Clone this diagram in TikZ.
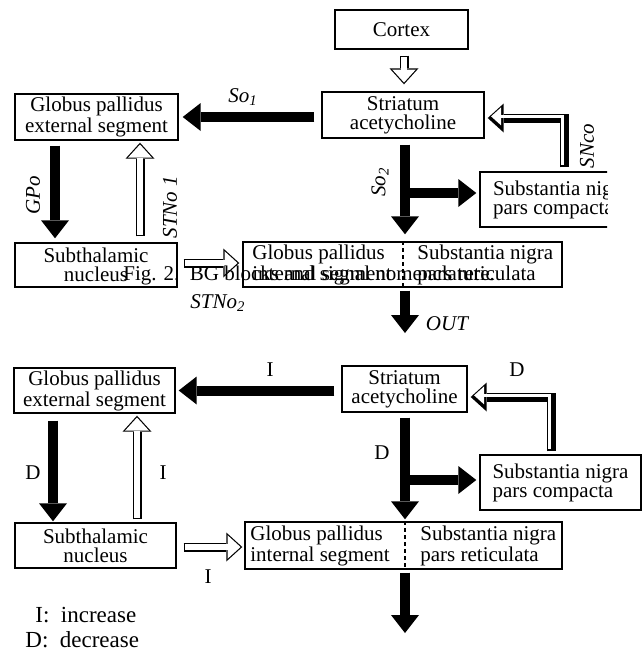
\documentclass[tikz,border=0pt]{standalone}
\usepackage{fontspec}
\setmainfont{Liberation Serif}
\usetikzlibrary{arrows.meta}

\tikzset{
	box/.style={draw, line width=0.7pt, inner sep=0pt, align=center, font=\fontsize{10.5}{9.5}\selectfont},
	txt/.style={inner sep=0pt, align=left, font=\fontsize{10.5}{9.5}\selectfont},
	lbl/.style={inner sep=0pt, font=\fontsize{10.5}{10}\selectfont\itshape},
	lbr/.style={inner sep=0pt, font=\fontsize{10.5}{10}\selectfont},
	divider/.style={line width=0.6pt, dash pattern=on 2pt off 1.5pt},
	blk/.style 2 args={line width=5pt, shorten <=#1, shorten >=#2,
		-{Triangle[width=14pt, length=9pt, line width=0pt]}},
	hol/.style 2 args={line width=4.5pt, shorten <=#1, shorten >=#2,
		-{Triangle[width=14.5pt, length=8pt, line width=0pt]},
		postaction={draw=white, line width=3.3pt, shorten <=#1+0.6pt, shorten >=#2+0.9pt,
			-{Triangle[width=11.8pt, length=6.5pt, line width=0pt]}}},
	shd/.style 2 args={line width=4.5pt, line join=miter, shorten <=#1, shorten >=#2,
		-{Triangle[width=14.5pt, length=8pt, line width=0pt]},
		postaction={draw=white, line width=1.6pt, line join=miter,
			transform canvas={xshift=-0.8pt, yshift=0.8pt},
			shorten <=#1+0.6pt, shorten >=#2+2.5pt,
			-{Triangle[width=9pt, length=5pt, line width=0pt]}}}
}

\begin{document}
\begin{tikzpicture}[x=0.5pt, y=-0.5pt]
	\useasboundingbox (0,0) rectangle (642,654);

	% columns and rows
	\coordinate (cM) at (404,0);
	\coordinate (cS) at (405,0);

	% upper diagram
	\node[box, minimum width=66.5pt, minimum height=19.5pt] (cortex) at (401.5,29.5) {Cortex};
	\node[box, minimum width=81pt, minimum height=23pt] (str1) at (403,115) {Striatum\\acetycholine};
	\node[box, minimum width=81.5pt, minimum height=23pt] (gpe1) at (96.5,117) {Globus pallidus\\external segment};
	\node[box, minimum width=81pt, minimum height=22pt] (stn1) at (96,265) {Subthalamic\\nucleus};
	\node[box, minimum width=159.5pt, minimum height=22.5pt] (gpi1) at (402.5,264.5) {};
	\node[txt, anchor=west] (gpil1) at (252,264.5) {Globus pallidus\\internal segment};
	\node[txt, anchor=west] (snr1) at (417,264.5) {Substantia nigra\\pars reticulata};
	\begin{scope}
		\clip (0,0) rectangle (607,340);
		\node[box, align=left, minimum width=81pt, minimum height=27.5pt] (snc1) at (561,199.5) {Substantia nigra\\pars compacta};
	\end{scope}

	\coordinate (dv1) at (403,0);
	\draw[divider] (gpi1.north -| dv1) -- (gpi1.south -| dv1);

	\coordinate (cG1) at (55,0);
	\coordinate (cT1) at (140,0);
	\coordinate (cN1) at (564,0);
	\coordinate (rN1) at (0,118);
	\coordinate (rS1) at (0,263);
	\coordinate (br1) at (405,193);
	\coordinate (out1) at (405,333);

	\draw[hol={3pt}{3.5pt}] (cortex.south -| cM) -- (str1.north -| cM);
	\draw[blk={3.5pt}{2pt}] (str1.west |- gpe1) -- (gpe1.east);
	\draw[blk={3pt}{3.5pt}] (str1.south -| cS) -- (gpi1.north -| cS);
	\draw[blk={0pt}{1.5pt}] (br1) -- (br1 -| snc1.west);
	\draw[shd={2pt}{1.5pt}] (snc1.north -| cN1) |- (str1.east |- rN1);
	\draw[blk={2.5pt}{2pt}] (gpe1.south -| cG1) -- (stn1.north -| cG1);
	\draw[hol={3pt}{1pt}] (stn1.north -| cT1) -- (gpe1.south -| cT1);
	\draw[hol={3pt}{1.5pt}] (stn1.east |- rS1) -- (gpi1.west |- rS1);
	\draw[blk={1.5pt}{0pt}] (gpi1.south -| cS) -- (out1);

	\node[lbl] (so1) at (243,97) {So\textsubscript{1}};
	\node[lbl, rotate=90] (so2) at (380,182) {So\textsubscript{2}};
	\node[lbl, rotate=90] (snco) at (587,146) {SNco};
	\node[lbl, rotate=90] (gpo) at (33,195) {GPo};
	\node[lbl, rotate=90] (stno1) at (170,207) {STNo 1};
	\node[lbl] (stno2) at (218,303) {STNo\textsubscript{2}};
	\node[lbl] (outl) at (447,324) {OUT};
	\node[lbr, anchor=base west] (cap) at (123,280) {Fig. 2.\ \ BG blocks and signal nomenclature.};

	% lower diagram
	\node[box, minimum width=80.5pt, minimum height=22.5pt] (gpe2) at (94.5,390.5) {Globus pallidus\\external segment};
	\node[box, minimum width=62.5pt, minimum height=23pt] (str2) at (404.5,389) {Striatum\\acetycholine};
	\node[box, align=left, minimum width=80.5pt, minimum height=27.5pt] (snc2) at (560.5,482.5) {Substantia nigra\\pars compacta};
	\node[box, minimum width=80.5pt, minimum height=22.5pt] (stn2) at (95.5,545.5) {Subthalamic\\nucleus};
	\node[box, minimum width=158.5pt, minimum height=23.5pt] (gpi2) at (403.5,545.5) {};
	\node[txt, anchor=west] (gpil2) at (250,545.5) {Globus pallidus\\internal segment};
	\node[txt, anchor=west] (snr2) at (420,545.5) {Substantia nigra\\pars reticulata};

	\coordinate (dv2) at (405,0);
	\draw[divider] (gpi2.north -| dv2) -- (gpi2.south -| dv2);

	\coordinate (cG2) at (53,0);
	\coordinate (cT2) at (137,0);
	\coordinate (cN2) at (551,0);
	\coordinate (rN2) at (0,397);
	\coordinate (rS2) at (0,547);
	\coordinate (br2) at (405,480);
	\coordinate (out2) at (405,633);

	\draw[blk={3.5pt}{1.5pt}] (str2.west |- gpe2) -- (gpe2.east);
	\draw[blk={2.5pt}{1pt}] (str2.south -| cS) -- (gpi2.north -| cS);
	\draw[blk={0pt}{1.5pt}] (br2) -- (br2 -| snc2.west);
	\draw[shd={1.5pt}{1.5pt}] (snc2.north -| cN2) |- (str2.east |- rN2);
	\draw[blk={3.5pt}{0.5pt}] (gpe2.south -| cG2) -- (stn2.north -| cG2);
	\draw[hol={1.5pt}{1pt}] (stn2.north -| cT2) -- (gpe2.south -| cT2);
	\draw[hol={3.5pt}{1pt}] (stn2.east |- rS2) -- (gpi2.west |- rS2);
	\draw[blk={1.5pt}{0pt}] (gpi2.south -| cS) -- (out2);

	\node[lbr] (i1) at (270,370) {I};
	\node[lbr] (d1) at (517,370) {D};
	\node[lbr] (d2) at (382,453) {D};
	\node[lbr] (d3) at (33,473) {D};
	\node[lbr] (i2) at (163,473) {I};
	\node[lbr] (i3) at (208,577) {I};

	\node[lbr, anchor=base west, font=\fontsize{11.5}{12}\selectfont] (leg1) at (35,622) {I:\ \ increase};
	\node[lbr, anchor=base west, font=\fontsize{11.5}{12}\selectfont] (leg2) at (25,647) {D:\ \ decrease};
\end{tikzpicture}
\end{document}
